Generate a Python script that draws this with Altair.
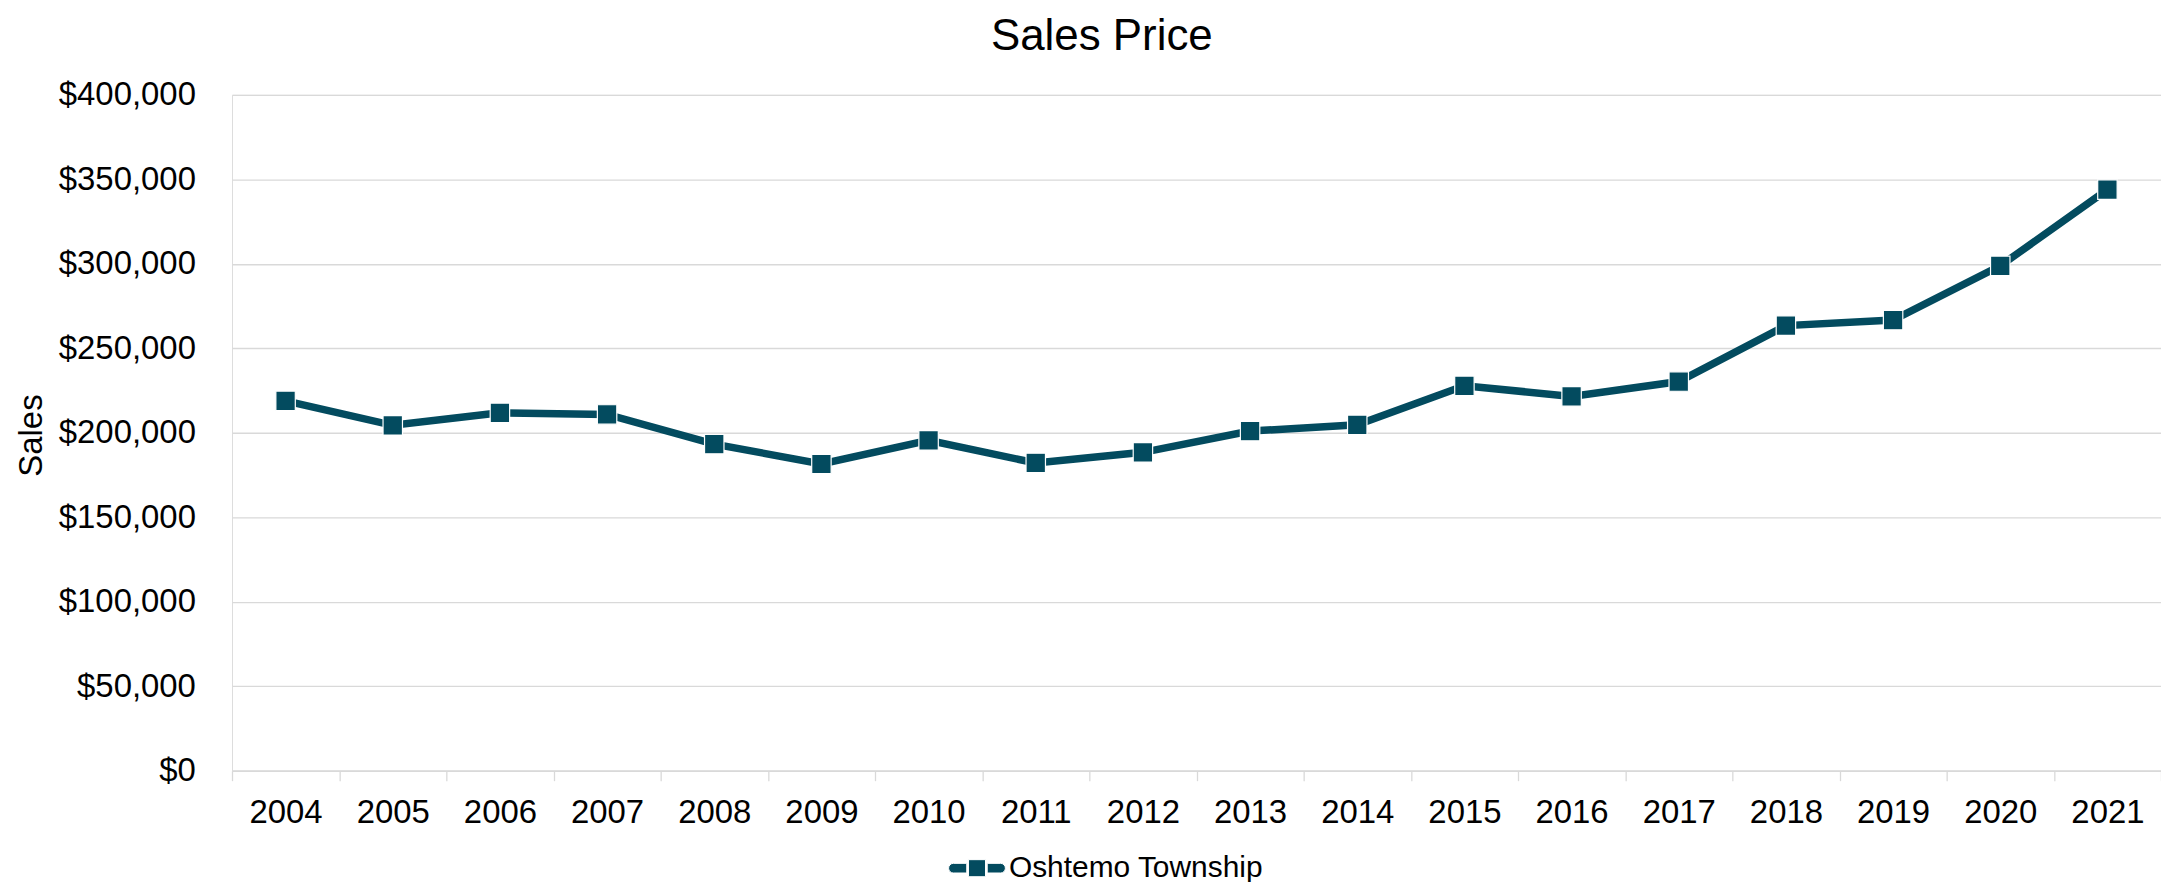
import altair as alt
import pandas as pd

years = ["2004", "2005", "2006", "2007", "2008", "2009", "2010", "2011", "2012",
         "2013", "2014", "2015", "2016", "2017", "2018", "2019", "2020", "2021"]
sales = [218900, 204400, 211800, 210800, 193300, 181500, 195500, 182100, 188400,
         201000, 204700, 227800, 221500, 230300, 263400, 266700, 298800, 343900]
series_name = "Oshtemo Township"
y_ticks = [0, 50000, 100000, 150000, 200000, 250000, 300000, 350000, 400000]

df = pd.DataFrame({"Year": years, "Sales": sales, "Series": [series_name] * len(years)})

TEAL = "#034b5f"
GRID = "#d9d9d9"
FONT = "Liberation Sans"

# legend symbol: line segment - square - line segment
LEGEND_PATH = (
    "M -0.36,-0.17 L -0.83,-0.17 A 0.17 0.17 0 0 0 -0.83,0.17 L -0.36,0.17 Z "
    "M -0.3,-0.3 L 0.3,-0.3 L 0.3,0.3 L -0.3,0.3 Z "
    "M 0.36,-0.17 L 0.83,-0.17 A 0.17 0.17 0 0 1 0.83,0.17 L 0.36,0.17 Z"
)

x_enc = alt.X(
    "Year:N", sort=years,
    scale=alt.Scale(type="band", paddingInner=0, paddingOuter=0),
    axis=alt.Axis(title=None, labelAngle=0, labelFontSize=33, labelColor="black",
                  labelFont=FONT, tickBand="extent", tickSize=10, tickColor=GRID,
                  tickWidth=1.3, domainColor=GRID, domainWidth=1.3,
                  labelPadding=16, grid=False),
)
y_enc = alt.Y(
    "Sales:Q",
    scale=alt.Scale(domain=[0, 400000], nice=False),
    axis=alt.Axis(values=y_ticks, format="$,.0f", title="Sales", titleFontSize=33,
                  titleFontWeight="normal", titleColor="black", titleFont=FONT,
                  titleAngle=270, titleX=-190.7, titleY=341.3, titleAlign="center",
                  titleBaseline="alphabetic", labelFontSize=33, labelColor="black",
                  labelFont=FONT, labelPadding=36.7, ticks=False, domain=False,
                  grid=True, gridColor=GRID, gridWidth=1.3),
)

line = alt.Chart(df).mark_line(color=TEAL, strokeWidth=7.5).encode(x=x_enc, y=y_enc)

points = alt.Chart(df).mark_point(
    shape="square", filled=True, size=380, stroke="white", strokeWidth=1.2, opacity=1
).encode(
    x=x_enc, y=y_enc,
    color=alt.Color(
        "Series:N", scale=alt.Scale(range=[TEAL]),
        legend=alt.Legend(title=None, orient="none", legendX=718.3, legendY=746.8,
                          symbolType=LEGEND_PATH, symbolSize=3249, labelFontSize=30,
                          labelFont=FONT, labelColor="black", labelOffset=3, padding=0,
                          labelLimit=800, symbolStrokeColor="white",
                          symbolStrokeWidth=1, symbolOpacity=1),
    ),
)

chart = alt.layer(line, points).properties(
    width=1935,
    height=678,
    autosize=alt.AutoSizeParams(type="none"),
    padding={"left": 224.7, "top": 85.7, "right": 0, "bottom": 110.3},
    title=alt.TitleParams("Sales Price", fontSize=44, font=FONT, fontWeight="normal",
                          color="black", anchor="middle", frame="group", dx=-95,
                          offset=32, dy=47, baseline="alphabetic"),
).configure_view(stroke=None).configure(background="white")

chart.save("out.html", embed_options={"renderer": "svg", "actions": False})
